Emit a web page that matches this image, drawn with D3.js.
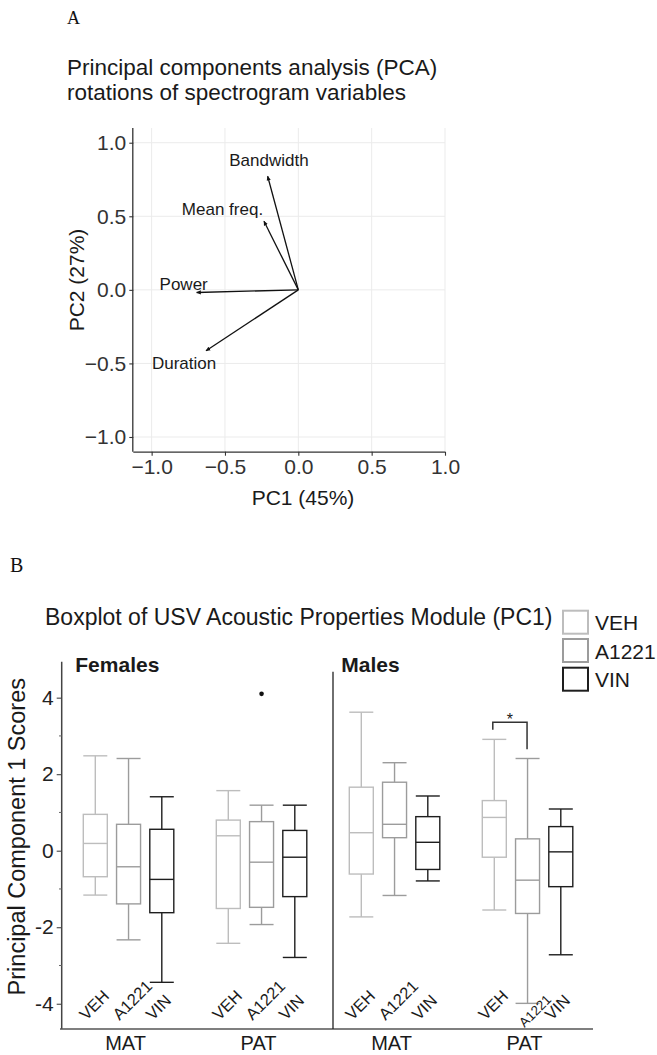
<!DOCTYPE html>
<html>
<head>
<meta charset="utf-8">
<script src="https://cdn.jsdelivr.net/npm/d3@7/dist/d3.min.js"></script>
<style>
  html, body { margin: 0; padding: 0; background: #fff; }
  svg { display: block; font-family: "Liberation Sans", Arial, Helvetica, sans-serif; }
</style>
</head>
<body>
<svg id="fig" width="657" height="1055"></svg>
<script>
// ---------- Panel A data: PCA rotations (loadings on PC1 / PC2) ----------
const variables = ["Bandwidth", "Mean freq.", "Power", "Duration"];
const pc1Loadings = [-0.209, -0.234, -0.693, -0.629];
const pc2Loadings = [0.772, 0.466, -0.018, -0.414];
const pcaTicks = [-1.0, -0.5, 0.0, 0.5, 1.0];

// ---------- Panel B data: five-number summaries of PC1 scores ----------
const sexes = ["Females", "Males"];
const lineages = ["MAT", "PAT"];
const treatments = ["VEH", "A1221", "VIN"];
// order: Females MAT, Females PAT, Males MAT, Males PAT; each VEH, A1221, VIN
const whiskerLow = [-1.16, -2.33, -3.44, -2.42, -1.93, -2.79, -1.73, -1.17, -0.79, -1.55, -3.99, -2.72];
const q1Values   = [-0.68, -1.39, -1.62, -1.51, -1.48, -1.20, -0.61, 0.34, -0.49, -0.17, -1.64, -0.94];
const medians    = [0.19, -0.42, -0.75, 0.39, -0.30, -0.17, 0.47, 0.69, 0.22, 0.87, -0.77, -0.03];
const q3Values   = [0.95, 0.69, 0.56, 0.80, 0.76, 0.53, 1.66, 1.79, 0.89, 1.31, 0.31, 0.63];
const whiskerHigh = [2.48, 2.41, 1.41, 1.57, 1.19, 1.19, 3.62, 2.30, 1.43, 2.91, 2.41, 1.09];
const outliers = [{ group: 4, value: 4.10 }];
const scoreTicks = [-4, -2, 0, 2, 4];
const scoreMinorTicks = [-3, -1, 1, 3];

const svg = d3.select("#fig");
const FONT = "'Liberation Sans', Arial, Helvetica, sans-serif";
const SERIF = "'Liberation Serif', 'Times New Roman', serif";

// =================== Panel A ===================
svg.append("text").attr("x", 67).attr("y", 24)
  .attr("font-family", SERIF).attr("font-size", 18).attr("fill", "#111").text("A");

const titleA = svg.append("text").attr("x", 67).attr("font-size", 22.5).attr("fill", "#1a1a1a");
titleA.append("tspan").attr("x", 67).attr("y", 75).text("Principal components analysis (PCA)");
titleA.append("tspan").attr("x", 67).attr("y", 100).text("rotations of spectrogram variables");

const ax = d3.scaleLinear().domain([-1.125, 1.0]).range([133.3, 445]);
const ay = d3.scaleLinear().domain([-1.1, 1.1]).range([451.7, 128]);

const gA = svg.append("g");
// grid
gA.selectAll("line.vgrid").data(pcaTicks).join("line")
  .attr("x1", d => ax(d)).attr("x2", d => ax(d))
  .attr("y1", ay.range()[1]).attr("y2", ay.range()[0])
  .attr("stroke", "#ebebeb").attr("stroke-width", 1);
gA.selectAll("line.hgrid").data(pcaTicks).join("line")
  .attr("y1", d => ay(d)).attr("y2", d => ay(d))
  .attr("x1", ax.range()[0]).attr("x2", ax.range()[1])
  .attr("stroke", "#ebebeb").attr("stroke-width", 1);

const fmtA = d => d3.format(".1f")(d).replace("-", "\u2212");
const xAxisA = d3.axisBottom(ax).tickValues(pcaTicks).tickFormat(fmtA).tickSize(4).tickPadding(3);
const yAxisA = d3.axisLeft(ay).tickValues(pcaTicks).tickFormat(fmtA).tickSize(4).tickPadding(3);
const gxA = gA.append("g").attr("transform", `translate(0,${ay.range()[0]})`).call(xAxisA);
const gyA = gA.append("g").attr("transform", `translate(${ax.range()[0]},0)`).call(yAxisA);
[gxA, gyA].forEach(g => {
  g.select(".domain").attr("stroke", "#333").attr("stroke-width", 1.3);
  g.selectAll(".tick line").attr("stroke", "#333").attr("stroke-width", 1.1);
  g.selectAll(".tick text").attr("font-family", FONT).attr("font-size", 21).attr("fill", "#333");
});
gxA.select(".domain").attr("d", `M${ax.range()[0]},0.5H${ax.range()[1]}`);
gyA.select(".domain").attr("d", `M-0.5,${ay.range()[1]}V${ay.range()[0]}`);

svg.append("text").attr("x", 303).attr("y", 505).attr("text-anchor", "middle")
  .attr("font-size", 21).attr("fill", "#1a1a1a").text("PC1 (45%)");
svg.append("text").attr("transform", "translate(84,280) rotate(-90)").attr("text-anchor", "middle")
  .attr("font-size", 21).attr("fill", "#1a1a1a").text("PC2 (27%)");

// arrows from origin
const defs = svg.append("defs");
defs.append("marker").attr("id", "arrowhead").attr("viewBox", "0 0 10 10")
  .attr("refX", 8).attr("refY", 5).attr("markerWidth", 4).attr("markerHeight", 4)
  .attr("orient", "auto")
  .append("path").attr("d", "M0,1 L9,5 L0,9 z").attr("fill", "#111");

const loadings = variables.map((v, i) => ({ name: v, x: pc1Loadings[i], y: pc2Loadings[i] }));
gA.selectAll("line.arrow").data(loadings).join("line")
  .attr("x1", ax(0)).attr("y1", ay(0))
  .attr("x2", d => ax(d.x)).attr("y2", d => ay(d.y))
  .attr("stroke", "#111").attr("stroke-width", 1.3)
  .attr("marker-end", "url(#arrowhead)");

// label nudges (pixels) relative to arrow tips
const labelNudge = {
  "Bandwidth": [1.3, -10.7],
  "Mean freq.": [-41.5, -6.7],
  "Power": [-13, -2.7],
  "Duration": [-22, 18.6]
};
gA.selectAll("text.vlab").data(loadings).join("text")
  .attr("x", d => ax(d.x) + labelNudge[d.name][0])
  .attr("y", d => ay(d.y) + labelNudge[d.name][1])
  .attr("text-anchor", "middle").attr("font-size", 17).attr("fill", "#1a1a1a")
  .text(d => d.name);

// =================== Panel B ===================
svg.append("text").attr("x", 10).attr("y", 572)
  .attr("font-family", SERIF).attr("font-size", 20).attr("fill", "#111").text("B");

svg.append("text").attr("x", 45).attr("y", 625).attr("font-size", 23).attr("fill", "#1a1a1a")
  .text("Boxplot of USV Acoustic Properties Module (PC1)");

const colors = { "VEH": "#bdbdbd", "A1221": "#9c9c9c", "VIN": "#1e1e1e" };

// legend
const legend = svg.append("g");
treatments.forEach((t, i) => {
  const top = [610.7, 639, 667.7][i];
  legend.append("rect").attr("x", 563).attr("y", top).attr("width", 25).attr("height", 23)
    .attr("fill", "#fff").attr("stroke", colors[t]).attr("stroke-width", 2);
  legend.append("text").attr("x", 595).attr("y", top + 19.5).attr("font-size", 21)
    .attr("fill", "#1a1a1a").text(t);
});

// boxes: slots along x (3 treatments per lineage, one empty slot between lineages)
const groups = [];
sexes.forEach((s, si) => lineages.forEach((l, li) => treatments.forEach((t, ti) => {
  groups.push({ sex: s, lineage: l, treatment: t, slot: si * 8 + li * 4 + ti });
})));
groups.forEach((g, i) => {
  g.low = whiskerLow[i]; g.q1 = q1Values[i]; g.med = medians[i];
  g.q3 = q3Values[i]; g.high = whiskerHigh[i];
});

const bx = d3.scaleLinear().domain([0, 14]).range([95.3, 560.8]);
const by = d3.scaleLinear().domain([-4.66, 4.94]).range([1029, 661.7]);
const boxW = 24;

const gB = svg.append("g");
const boxG = gB.selectAll("g.box").data(groups).join("g")
  .attr("stroke", d => colors[d.treatment]).attr("stroke-width", 1.4).attr("fill", "none");
boxG.append("line").attr("x1", d => bx(d.slot)).attr("x2", d => bx(d.slot))
  .attr("y1", d => by(d.high)).attr("y2", d => by(d.q3));
boxG.append("line").attr("x1", d => bx(d.slot)).attr("x2", d => bx(d.slot))
  .attr("y1", d => by(d.q1)).attr("y2", d => by(d.low));
boxG.append("line").attr("x1", d => bx(d.slot) - boxW / 2).attr("x2", d => bx(d.slot) + boxW / 2)
  .attr("y1", d => by(d.high)).attr("y2", d => by(d.high));
boxG.append("line").attr("x1", d => bx(d.slot) - boxW / 2).attr("x2", d => bx(d.slot) + boxW / 2)
  .attr("y1", d => by(d.low)).attr("y2", d => by(d.low));
boxG.append("rect").attr("x", d => bx(d.slot) - boxW / 2).attr("width", boxW)
  .attr("y", d => by(d.q3)).attr("height", d => by(d.q1) - by(d.q3)).attr("fill", "#fff");
boxG.append("line").attr("x1", d => bx(d.slot) - boxW / 2).attr("x2", d => bx(d.slot) + boxW / 2)
  .attr("y1", d => by(d.med)).attr("y2", d => by(d.med));

gB.selectAll("circle.outlier").data(outliers).join("circle")
  .attr("cx", d => bx(groups[d.group].slot)).attr("cy", d => by(d.value))
  .attr("r", 2.3).attr("fill", "#111");

// axes (hyphen-minus tick labels)
const yAxisB = d3.axisLeft(by).tickValues(scoreTicks).tickFormat(d => String(d)).tickSize(5).tickPadding(3);
const gyB = gB.append("g").attr("transform", "translate(61.7,0)").call(yAxisB);
gyB.select(".domain").attr("d", `M0,${by.range()[1]}V${by.range()[0]}`)
  .attr("stroke", "#444").attr("stroke-width", 1.5);
gyB.selectAll(".tick line").attr("stroke", "#444").attr("stroke-width", 1.1);
gyB.selectAll(".tick text").attr("font-family", FONT).attr("font-size", 21).attr("fill", "#222");
gB.selectAll("line.minor").data(scoreMinorTicks).join("line")
  .attr("x1", 59).attr("x2", 61.7).attr("y1", d => by(d)).attr("y2", d => by(d))
  .attr("stroke", "#666").attr("stroke-width", 1);

gB.append("line").attr("x1", 60).attr("x2", 593).attr("y1", by.range()[0]).attr("y2", by.range()[0])
  .attr("stroke", "#555").attr("stroke-width", 1.6);
// separator between sexes
gB.append("line").attr("x1", 333).attr("x2", 333).attr("y1", 671.7).attr("y2", by.range()[0])
  .attr("stroke", "#222").attr("stroke-width", 1.3);

svg.append("text").attr("transform", "translate(25,836.7) rotate(-90)").attr("text-anchor", "middle")
  .attr("font-size", 23.5).attr("fill", "#1a1a1a").text("Principal Component 1 Scores");

// sex labels
sexes.forEach((s, si) => {
  svg.append("text").attr("x", bx(si * 8) - 20).attr("y", 671.7)
    .attr("font-size", 21).attr("font-weight", "bold").attr("fill", "#1a1a1a").text(s);
});

// lineage labels under each triple
sexes.forEach((s, si) => lineages.forEach((l, li) => {
  svg.append("text").attr("x", bx(si * 8 + li * 4 + 1) - 3).attr("y", 1050)
    .attr("text-anchor", "middle").attr("font-size", 20).attr("fill", "#1a1a1a").text(l);
}));

// rotated treatment labels inside the panel
const isSmall = d => d.sex === "Males" && d.lineage === "PAT" && d.treatment === "A1221";
gB.selectAll("text.trt").data(groups).join("text")
  .attr("transform", d => isSmall(d)
    ? `translate(${bx(d.slot) - 3},1028) rotate(-45)`
    : `translate(${bx(d.slot) - 9},1021) rotate(-45)`)
  .attr("font-size", d => isSmall(d) ? 13.5 : 16.5)
  .attr("fill", "#1a1a1a")
  .text(d => d.treatment);

// significance bracket: Males PAT VEH vs A1221
const sigL = bx(12) - 1.5, sigR = bx(13) - 0.5;
gB.append("path")
  .attr("d", `M${sigL},${by(3.16)}V${by(3.36)}H${sigR}V${by(2.65)}`)
  .attr("fill", "none").attr("stroke", "#333").attr("stroke-width", 1.5);
gB.append("text").attr("x", (sigL + sigR) / 2).attr("y", 725).attr("text-anchor", "middle")
  .attr("font-size", 16).attr("fill", "#1a1a1a").text("*");
</script>
</body>
</html>
